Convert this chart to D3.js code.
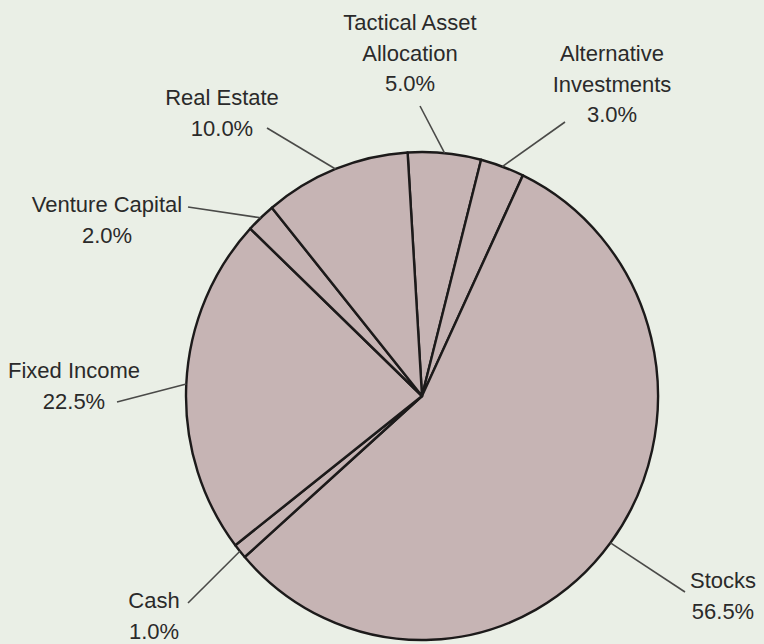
<!DOCTYPE html>
<html>
<head>
<meta charset="utf-8">
<script src="https://cdn.jsdelivr.net/npm/d3@7"></script>
<style>
  html, body { margin: 0; padding: 0; background: #eaefe6; }
  svg { display: block; }
</style>
</head>
<body>
<div id="chart"></div>
<script>
const w = 764
const h = 644

// data
const categories = ['Tactical Asset Allocation', 'Alternative Investments', 'Stocks', 'Cash', 'Fixed Income', 'Venture Capital', 'Real Estate']
const values = [5.0, 3.0, 56.5, 1.0, 22.5, 2.0, 10.0]
const labelLines = [
    ['Tactical Asset', 'Allocation', '5.0%'],
    ['Alternative', 'Investments', '3.0%'],
    ['Stocks', '56.5%'],
    ['Cash', '1.0%'],
    ['Fixed Income', '22.5%'],
    ['Venture Capital', '2.0%'],
    ['Real Estate', '10.0%']
]

// label layout: text centre x, first baseline y, leader outer end
const labelLayout = [
    { x: 410, y: 30, lx: 420, ly: 106 },
    { x: 612, y: 61, lx: 565, ly: 122 },
    { x: 723, y: 588, lx: 685, ly: 592 },
    { x: 154, y: 608, lx: 188, ly: 603 },
    { x: 74, y: 378, lx: 117, ly: 402 },
    { x: 107, y: 212, lx: 188, ly: 207 },
    { x: 222, y: 105, lx: 267, ly: 128 }
]

const cx = 422
const cy = 396
const r = 236
const sy = 1.034   // photo is a touch taller than wide
const lineH = 30.5

const svg = d3.select('#chart')
    .append('svg')
    .attr('width', w)
    .attr('height', h)

svg.append('rect')
    .attr('width', w)
    .attr('height', h)
    .attr('fill', '#eaefe6')

const pie = d3.pie()
    .sort(null)
    .value(d => d)
    .startAngle(-3.5 * Math.PI / 180)
    .endAngle((360 - 3.5) * Math.PI / 180)

const arcs = pie(values)

const arc = d3.arc()
    .innerRadius(0)
    .outerRadius(r)

const g = svg.append('g')
    .attr('transform', `translate(${cx},${cy}) scale(1,${sy})`)

g.selectAll('path')
    .data(arcs)
    .enter()
    .append('path')
    .attr('d', arc)
    .attr('fill', '#c6b4b4')
    .attr('stroke', '#1c1a1a')
    .attr('stroke-width', 2.4)
    .attr('stroke-linejoin', 'round')

// leader lines from slice middle on the rim to the label
function rimPoint(d) {
    const a = (d.startAngle + d.endAngle) / 2
    return [cx + r * Math.sin(a), cy - r * Math.cos(a) * sy]
}

svg.selectAll('line.leader')
    .data(arcs)
    .enter()
    .append('line')
    .attr('class', 'leader')
    .attr('x1', (d, i) => labelLayout[i].lx)
    .attr('y1', (d, i) => labelLayout[i].ly)
    .attr('x2', d => rimPoint(d)[0])
    .attr('y2', d => rimPoint(d)[1])
    .attr('stroke', '#4a4a48')
    .attr('stroke-width', 1.6)

const labels = svg.selectAll('text.label')
    .data(arcs)
    .enter()
    .append('text')
    .attr('class', 'label')
    .attr('text-anchor', 'middle')
    .attr('font-family', '"Liberation Sans", Arial, sans-serif')
    .attr('font-size', 22)
    .attr('fill', '#2a2a2a')

labels.each(function (d, i) {
    const t = d3.select(this)
    labelLines[i].forEach((s, k) => {
        t.append('tspan')
            .attr('x', labelLayout[i].x)
            .attr('y', labelLayout[i].y + k * lineH)
            .text(s)
    })
})
</script>
</body>
</html>
